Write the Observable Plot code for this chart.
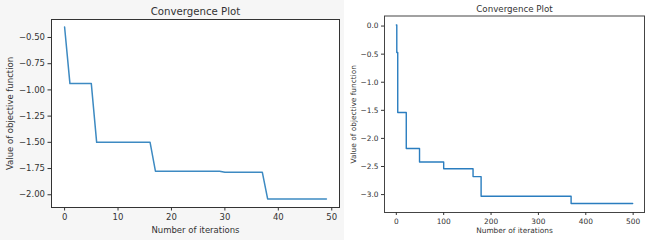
<!DOCTYPE html>
<html>
<head>
<meta charset="utf-8">
<script src="https://cdn.jsdelivr.net/npm/d3@7"></script>
<script src="https://cdn.jsdelivr.net/npm/@observablehq/plot@0.6"></script>
<style>
  html, body { margin: 0; padding: 0; background: #ffffff; }
  #wrap { position: relative; width: 646px; height: 240px; overflow: hidden; }
  #left { position: absolute; left: 0; top: 0; width: 344px; height: 240px; background: #f6f6f6; }
  #right { position: absolute; left: 344px; top: 0; width: 302px; height: 240px; background: #ffffff; }
  svg { display: block; }
</style>
</head>
<body>
<div id="wrap"><div id="left"></div><div id="right"></div></div>
<script>
// ---- Left chart (50 iterations) ----
const leftTitle = "Convergence Plot";
const leftXLabel = "Number of iterations";
const leftYLabel = "Value of objective function";
const leftValues = [
  -0.40,
  -0.94, -0.94, -0.94, -0.94, -0.94,
  -1.50, -1.50, -1.50, -1.50, -1.50, -1.50, -1.50, -1.50, -1.50, -1.50, -1.50,
  -1.775, -1.775, -1.775, -1.775, -1.775, -1.775, -1.775, -1.775, -1.775, -1.775, -1.775, -1.775, -1.775,
  -1.785, -1.785, -1.785, -1.785, -1.785, -1.785, -1.785, -1.785,
  -2.04, -2.04, -2.04, -2.04, -2.04, -2.04, -2.04, -2.04, -2.04, -2.04, -2.04, -2.04
];
const leftXTicks = [0, 10, 20, 30, 40, 50];
const leftYTicks = [-0.50, -0.75, -1.00, -1.25, -1.50, -1.75, -2.00];

// ---- Right chart (500 iterations), breakpoints of the best-so-far curve ----
const rightTitle = "Convergence Plot";
const rightXLabel = "Number of iterations";
const rightYLabel = "Value of objective function";
const rightIters  = [0, 1, 3, 21, 49, 100, 162, 179, 369, 499];
const rightValues = [0.02, -0.47, -1.54, -2.18, -2.42, -2.54, -2.68, -3.03, -3.16, -3.16];
const rightXTicks = [0, 100, 200, 300, 400, 500];
const rightYTicks = [0.0, -0.5, -1.0, -1.5, -2.0, -2.5, -3.0];

const leftData = leftValues.map((v, i) => ({iter: i, value: v}));
const rightData = rightIters.map((it, i) => ({iter: it, value: rightValues[i]}));

const ink = "#333333";

const leftPlot = Plot.plot({
  width: 344, height: 240,
  marginLeft: 51, marginRight: 5, marginTop: 19, marginBottom: 33,
  style: {fontFamily: "DejaVu Sans, sans-serif", fontSize: "8.5px", color: ink, background: "transparent"},
  x: {domain: [-2.45, 51.45]},
  y: {domain: [-2.1215, -0.3285]},
  marks: [
    Plot.frame({fill: "#ffffff"}),
    Plot.line(leftData, {x: "iter", y: "value", stroke: "#3d8ac2", strokeWidth: 1.5}),
    Plot.frame({stroke: ink, strokeWidth: 1}),
    Plot.axisX({ticks: leftXTicks, tickSize: 3.5, tickPadding: 3, tickFormat: "d",
      label: leftXLabel, labelAnchor: "center", labelArrow: "none", labelOffset: 25}),
    Plot.axisY({ticks: leftYTicks, tickSize: 3.5, tickPadding: 3, tickFormat: ".2f",
      label: leftYLabel, labelAnchor: "center", labelArrow: "none", labelOffset: 45}),
    Plot.text([leftTitle], {frameAnchor: "top", dy: -8, lineAnchor: "middle", fontSize: 10.2, fill: ink})
  ]
});
document.getElementById("left").append(leftPlot);

const rightPlot = Plot.plot({
  width: 302, height: 240,
  marginLeft: 40, marginRight: 2, marginTop: 15.5, marginBottom: 28,
  style: {fontFamily: "DejaVu Sans, sans-serif", fontSize: "7.4px", color: ink, background: "transparent"},
  x: {domain: [-24.95, 523.95]},
  y: {domain: [-3.319, 0.179]},
  marks: [
    Plot.frame({fill: "#ffffff"}),
    Plot.line(rightData, {x: "iter", y: "value", curve: "step-after", stroke: "#2a7dbf", strokeWidth: 1.4}),
    Plot.frame({stroke: "#444", strokeWidth: 1}),
    Plot.axisX({ticks: rightXTicks, tickSize: 3, tickPadding: 3, tickFormat: "d",
      label: rightXLabel, labelAnchor: "center", labelArrow: "none", labelOffset: 20}),
    Plot.axisY({ticks: rightYTicks, tickSize: 3, tickPadding: 3, tickFormat: ".1f",
      label: rightYLabel, labelAnchor: "center", labelArrow: "none", labelOffset: 34}),
    Plot.text([rightTitle], {frameAnchor: "top", dy: -6.5, lineAnchor: "middle", fontSize: 8.7, fill: ink})
  ]
});
document.getElementById("right").append(rightPlot);
</script>
</body>
</html>
